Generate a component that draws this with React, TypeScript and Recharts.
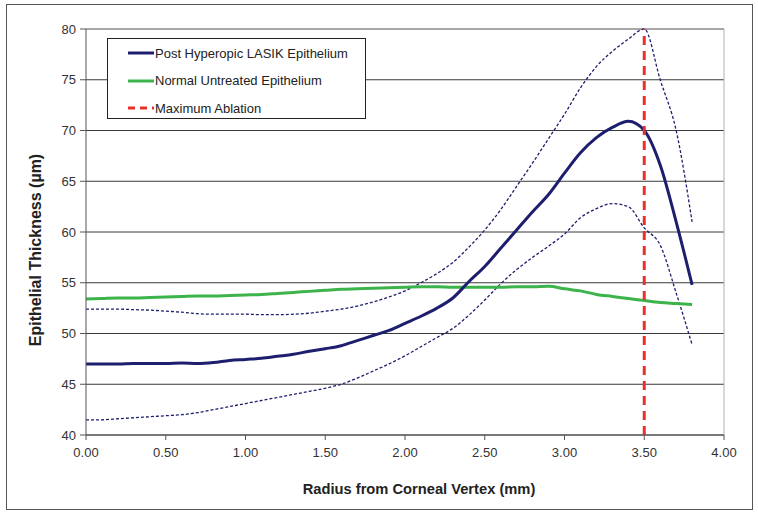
import { LineChart, Line, XAxis, YAxis, CartesianGrid, ReferenceLine, Label } from 'recharts'

const radius = [0, 0.1, 0.2, 0.3, 0.4, 0.5, 0.6, 0.7, 0.8, 0.9, 1.0, 1.1, 1.2, 1.3, 1.4, 1.5, 1.6, 1.7, 1.8, 1.9,
  2.0, 2.1, 2.2, 2.3, 2.4, 2.5, 2.6, 2.7, 2.8, 2.9, 3.0, 3.1, 3.2, 3.3, 3.4, 3.5, 3.6, 3.7, 3.8]

const postMean = [47.0, 47.0, 47.0, 47.05, 47.05, 47.05, 47.1, 47.05, 47.15, 47.35, 47.45, 47.55, 47.75, 47.95, 48.25, 48.5, 48.8, 49.3, 49.8, 50.3,
  51.0, 51.7, 52.5, 53.5, 55.1, 56.6, 58.4, 60.2, 62.0, 63.7, 65.8, 67.8, 69.3, 70.3, 70.9, 70.0, 66.6, 61.0, 54.8]

const postUpper = [52.4, 52.4, 52.4, 52.35, 52.3, 52.2, 52.1, 51.95, 51.9, 51.9, 51.9, 51.85, 51.85, 51.9, 52.0, 52.2, 52.4, 52.7, 53.1, 53.6,
  54.2, 55.0, 55.9, 57.0, 58.5, 60.2, 62.2, 64.5, 66.8, 69.2, 71.6, 74.2, 76.3, 77.8, 79.0, 80.0, 75.0, 70.0, 61.0]

const postLower = [41.5, 41.5, 41.6, 41.7, 41.8, 41.9, 42.0, 42.2, 42.5, 42.8, 43.1, 43.4, 43.7, 44.0, 44.3, 44.6, 45.0, 45.6, 46.3, 47.0,
  47.8, 48.7, 49.6, 50.5, 51.8, 53.3, 54.9, 56.3, 57.5, 58.6, 59.8, 61.4, 62.3, 62.8, 62.5, 60.4, 58.7, 54.0, 48.9]

const normal = [53.4, 53.45, 53.5, 53.5, 53.55, 53.6, 53.65, 53.7, 53.7, 53.75, 53.8, 53.85, 53.95, 54.05, 54.15, 54.25, 54.35, 54.4, 54.45, 54.5,
  54.55, 54.6, 54.6, 54.55, 54.55, 54.55, 54.55, 54.6, 54.6, 54.65, 54.4, 54.2, 53.85, 53.65, 53.45, 53.25, 53.05, 52.95, 52.85]

const maxAblation = 3.5
const xTicks = [0, 0.5, 1, 1.5, 2, 2.5, 3, 3.5, 4]
const yTicks = [40, 45, 50, 55, 60, 65, 70, 75, 80]

const NAVY = '#1e1e6e'
const GREEN = '#3cb44b'
const RED = '#e8302c'
const FONT = '"Liberation Sans", Arial, sans-serif'

const legendItems = [
  { name: 'Post Hyperopic LASIK Epithelium', color: NAVY, dash: undefined },
  { name: 'Normal Untreated Epithelium', color: GREEN, dash: undefined },
  { name: 'Maximum Ablation', color: RED, dash: '7 5' },
]

const data = radius.map((r, i) => ({
  r,
  mean: postMean[i],
  upper: postUpper[i],
  lower: postLower[i],
  normal: normal[i],
}))

const titleStyle = { fill: '#222', fontWeight: 'bold', fontFamily: FONT }

export default function App() {
  return (
    <div style={{ position: 'absolute', left: 0, top: 0, width: 758, height: 514, background: '#fff', fontFamily: FONT }}>
      <div style={{ position: 'absolute', left: 6, top: 4, width: 745, height: 504, border: '1.5px solid #555' }} />
      <LineChart width={758} height={514} data={data} margin={{ top: 29, right: 34, bottom: 49, left: 0 }}>
        <CartesianGrid vertical={false} stroke="#3a3a3a" strokeWidth={1} />
        <ReferenceLine y={80} stroke="#b0b0b0" strokeWidth={1} />
        <ReferenceLine x={4} stroke="#b0b0b0" strokeWidth={1} />
        <XAxis
          dataKey="r" type="number" domain={[0, 4]} ticks={xTicks} height={30}
          tickFormatter={(v: number) => v.toFixed(2)}
          stroke="#555" tickSize={5} tickMargin={8}
          tick={{ fill: '#333', fontSize: 13, fontFamily: FONT }}
        >
          <Label
            value="Radius from Corneal Vertex (mm)" position="insideBottom" offset={-29} dx={14}
            style={{ ...titleStyle, fontSize: 14.7 }}
          />
        </XAxis>
        <YAxis
          type="number" domain={[40, 80]} ticks={yTicks} width={86}
          stroke="#555" tickSize={6} tickMargin={4}
          tick={{ fill: '#333', fontSize: 13, fontFamily: FONT }}
        >
          <Label
            content={() => (
              <text x={41} y={250} transform="rotate(-90 41 250)" textAnchor="middle" style={{ ...titleStyle, fontSize: 16 }}>
                Epithelial Thickness (µm)
              </text>
            )}
          />
        </YAxis>
        <Line type="monotone" dataKey="upper" stroke={NAVY} strokeWidth={1.3} strokeDasharray="3 2" dot={false} isAnimationActive={false} />
        <Line type="monotone" dataKey="lower" stroke={NAVY} strokeWidth={1.3} strokeDasharray="3 2" dot={false} isAnimationActive={false} />
        <Line type="monotone" dataKey="normal" stroke={GREEN} strokeWidth={3} dot={false} isAnimationActive={false} />
        <Line type="monotone" dataKey="mean" stroke={NAVY} strokeWidth={3} dot={false} isAnimationActive={false} />
        <ReferenceLine x={maxAblation} stroke={RED} strokeWidth={3} strokeDasharray="9 6" />
      </LineChart>
      <div style={{
        position: 'absolute', left: 107, top: 38, width: 257, height: 79,
        border: '1.5px solid #222', background: '#fff', fontSize: 13, color: '#222',
      }}>
        {legendItems.map((it, i) => (
          <div key={it.name} style={{ position: 'absolute', left: 20, top: 6 + i * 27.5, height: 16, display: 'flex', alignItems: 'center' }}>
            <svg width={26} height={6} style={{ marginRight: 1 }}>
              <line x1={0} y1={3} x2={26} y2={3} stroke={it.color} strokeWidth={3} strokeDasharray={it.dash} />
            </svg>
            <span>{it.name}</span>
          </div>
        ))}
      </div>
    </div>
  )
}
